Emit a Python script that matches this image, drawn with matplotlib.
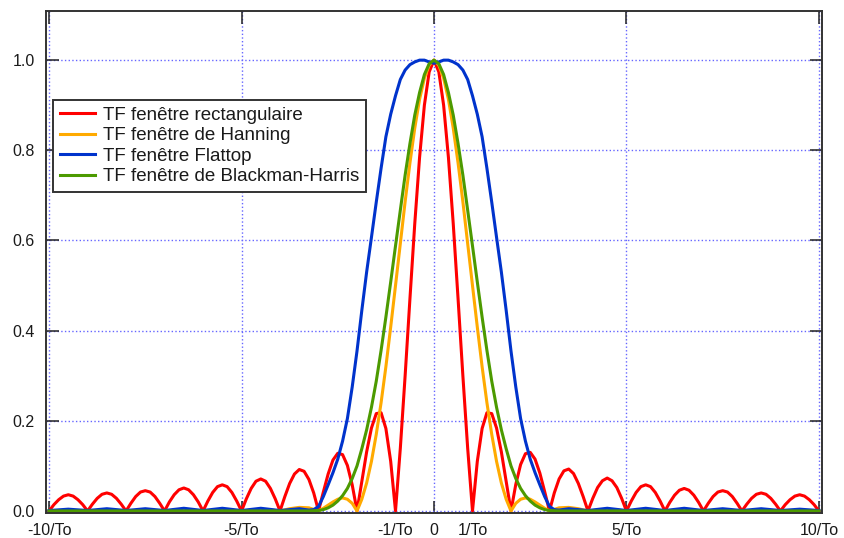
import numpy as np
import matplotlib
matplotlib.use("Agg")
import matplotlib.pyplot as plt

plt.rcParams['font.family'] = ['Liberation Sans', 'DejaVu Sans']

# abscisses en multiples de 1/To
rect_x = np.linspace(-10, 10, 161)
rect_y = [
    0, .014, .025, .033, .036, .033, .025, .014,
    0, .015, .028, .037, .040, .037, .028, .015,
    0, .017, .032, .042, .045, .042, .032, .017,
    0, .020, .036, .047, .051, .047, .036, .020,
    0, .022, .041, .054, .058, .054, .041, .022,
    0, .027, .050, .066, .071, .066, .050, .027,
    0, .032, .061, .082, .092, .088, .070, .040,
    0, .042, .082, .113, .128, .125, .101, .058,
    0, .066, .131, .184, .216, .218, .183, .110,
    0, .139, .300, .471, .637, .784, .900, .974,
    1.0,
    .974, .900, .784, .637, .471, .300, .139, 0,
    .110, .183, .218, .216, .184, .131, .066, 0,
    .059, .103, .127, .130, .115, .084, .043, 0,
    .040, .071, .089, .093, .083, .061, .032, 0,
    .028, .052, .067, .073, .067, .052, .028, 0,
    .022, .041, .054, .058, .054, .041, .022, 0,
    .019, .035, .046, .050, .046, .035, .019, 0,
    .017, .032, .042, .045, .042, .032, .017, 0,
    .015, .028, .037, .040, .037, .028, .015, 0,
    .014, .025, .033, .036, .033, .025, .014, 0,
]

hann_x = [-10, -6, -5.5, -5, -4.5, -4, -3.75, -3.5, -3.25, -3,
          -2.875, -2.75, -2.625, -2.5, -2.375, -2.25, -2.125, -2,
          -1.875, -1.75, -1.625, -1.5, -1.375, -1.25, -1.125, -1,
          -0.875, -0.75, -0.625, -0.5, -0.375, -0.25, -0.125, 0,
          0.125, 0.25, 0.375, 0.5, 0.625, 0.75, 0.875, 1,
          1.125, 1.25, 1.375, 1.5, 1.625, 1.75, 1.875, 2,
          2.125, 2.25, 2.375, 2.5, 2.625, 2.75, 2.875, 3,
          3.25, 3.5, 3.75, 4, 4.5, 5, 5.5, 6, 10]
hann_y = [0, 0, .002, 0, .004, 0, .005, .008, .007, 0,
          .006, .013, .020, .026, .029, .026, .017, 0,
          .026, .062, .110, .170, .240, .320, .408, .500,
          .593, .686, .772, .849, .913, .960, .989, 1.0,
          .989, .960, .913, .849, .772, .686, .593, .500,
          .408, .320, .240, .170, .110, .062, .026, 0,
          .017, .026, .029, .026, .020, .013, .006, 0,
          .007, .008, .005, 0, .004, 0, .002, 0, 0]

flat_x = [-10, -9.5, -9, -8.5, -8, -7.5, -7, -6.5, -6, -5.5, -5, -4.5, -4, -3.5,
          -3.25, -3.125, -3, -2.875, -2.75, -2.625, -2.5, -2.375, -2.25, -2.125, -2,
          -1.875, -1.75, -1.625, -1.5, -1.375, -1.25, -1.125, -1,
          -0.875, -0.75, -0.625, -0.5, -0.375, -0.25, -0.125, 0,
          0.125, 0.25, 0.375, 0.5, 0.625, 0.75, 0.875, 1,
          1.125, 1.25, 1.375, 1.5, 1.625, 1.75, 1.875, 2,
          2.125, 2.25, 2.375, 2.5, 2.625, 2.75, 2.875, 3, 3.125, 3.25,
          3.5, 4, 4.5, 5, 5.5, 6, 6.5, 7, 7.5, 8, 8.5, 9, 9.5, 10]
flat_y = [.001, .004, .001, .005, .001, .005, .001, .006, .001, .006, .001, .006, .001, .005,
          .002, .003, .010, .032, .058, .085, .115, .155, .205, .275, .355,
          .445, .530, .607, .685, .760, .830, .880, .921,
          .957, .978, .990, .996, 1.0, 1.0, .996, .993,
          .996, 1.0, 1.0, .996, .990, .978, .957, .921,
          .880, .830, .760, .685, .607, .530, .445, .355,
          .275, .205, .155, .115, .085, .058, .032, .010, .003, .002,
          .005, .001, .006, .001, .006, .001, .006, .001, .005, .001, .005, .001, .004, .001]

bh_x = [-10, -3.25, -3, -2.875, -2.75, -2.625, -2.5, -2.375, -2.25, -2.125, -2,
        -1.875, -1.75, -1.625, -1.5, -1.375, -1.25, -1.125, -1,
        -0.875, -0.75, -0.625, -0.5, -0.375, -0.25, -0.125, 0,
        0.125, 0.25, 0.375, 0.5, 0.625, 0.75, 0.875, 1,
        1.125, 1.25, 1.375, 1.5, 1.625, 1.75, 1.875, 2,
        2.125, 2.25, 2.375, 2.5, 2.625, 2.75, 2.875, 3, 3.25, 10]
bh_y = [0, 0, .001, .003, .007, .013, .022, .034, .050, .072, .100,
        .138, .180, .230, .288, .356, .430, .508, .588,
        .667, .745, .815, .878, .928, .968, .992, 1.0,
        .992, .968, .928, .878, .815, .745, .667, .588,
        .508, .430, .356, .288, .230, .180, .138, .100,
        .072, .050, .034, .022, .013, .007, .003, .001, 0, 0]

major_ticks = [-10, -5, 0, 5, 10]
major_labels = ['-10/To', '-5/To', '0', '5/To', '10/To']
minor_ticks = [-1, 1]
minor_labels = ['-1/To', '1/To']
y_ticks = [0, 0.2, 0.4, 0.6, 0.8, 1.0]

fig = plt.figure(figsize=(8.44, 5.38), dpi=100)
ax = fig.add_axes([46 / 844, 25 / 538, 776 / 844, 502 / 538])

lw = 2.2
ax.plot(rect_x, rect_y, color='#ff0000', lw=lw, label='TF fenêtre rectangulaire')
ax.plot(hann_x, hann_y, color='#ffaa00', lw=lw, label='TF fenêtre de Hanning')
ax.plot(flat_x, flat_y, color='#0033cc', lw=lw, label='TF fenêtre Flattop')
ax.plot(bh_x, bh_y, color='#4c9a00', lw=lw, label='TF fenêtre de Blackman-Harris')

ax.set_xlim(-10.08, 10.08)
ax.set_ylim(-0.0045, 1.109)

ax.set_xticks(major_ticks)
ax.set_xticklabels(major_labels)
ax.set_xticks(minor_ticks, minor=True)
ax.set_xticklabels(minor_labels, minor=True)
ax.set_yticks(y_ticks)
ax.set_yticklabels(['%.1f' % v for v in y_ticks])

ax.tick_params(which='major', direction='in', length=9, width=1.1, color='#222222',
               top=True, right=True, labelsize=11.5, labelcolor='#1a1a1a', pad=7.5)
ax.tick_params(axis='y', pad=8)
ax.tick_params(which='minor', direction='in', length=0, width=0,
               labelsize=11.5, labelcolor='#1a1a1a', pad=7.5)

ax.grid(True, which='major', color='#6666ff', linestyle=':', linewidth=1.0)
ax.set_axisbelow(True)
for s in ax.spines.values():
    s.set_color('#333333')
    s.set_linewidth(1.4)

leg = ax.legend(loc='upper left', bbox_to_anchor=(7 / 776, 413 / 502), borderaxespad=0,
                fontsize=13.5, handlelength=1.9, handletextpad=0.4, labelspacing=0.18,
                borderpad=0.35, fancybox=False, framealpha=1, edgecolor='#333333')
leg.get_frame().set_linewidth(1.4)
for t in leg.get_texts():
    t.set_color('#1a1a1a')

fig.savefig('out.png', dpi=100)
